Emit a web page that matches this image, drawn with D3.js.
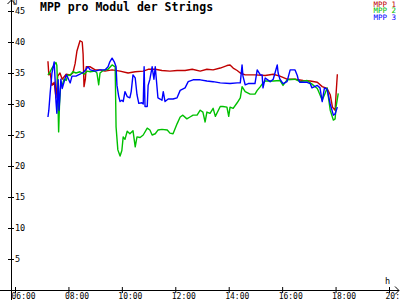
<!DOCTYPE html>
<html>
<head>
<meta charset="utf-8">
<script src="https://cdn.jsdelivr.net/npm/d3@7"></script>
<style>
  body { margin: 0; background: #fff; }
  #chart { width: 400px; height: 300px; }
  text { font-family: "DejaVu Sans Mono", monospace; }
</style>
</head>
<body>
<div id="chart"></div>
<script>
const yTicks = [5, 10, 15, 20, 25, 30, 35, 40, 45];
const xTicks = ["06:00", "08:00", "10:00", "12:00", "14:00", "16:00", "18:00", "20:00"];
const seriesNames = ["MPP 1", "MPP 2", "MPP 3"];
const seriesColors = ["#c00000", "#00c000", "#0000ff"];

const mpp1 = [
  ["07:14", 36.9], ["07:16", 34.7], ["07:19", 35.0], ["07:23", 33.0], ["07:28", 33.5],
  ["07:32", 31.0], ["07:36", 34.5], ["07:41", 35.0], ["07:46", 34.0], ["07:55", 34.8],
  ["08:04", 34.7], ["08:10", 35.0], ["08:15", 36.5], ["08:19", 38.5], ["08:26", 40.2],
  ["08:31", 40.0], ["08:33", 38.0], ["08:35", 32.8], ["08:38", 34.0], ["08:40", 36.0],
  ["08:49", 36.0], ["09:00", 35.5], ["09:11", 35.5], ["09:22", 35.3], ["09:38", 35.5],
  ["09:56", 35.3], ["10:14", 35.0], ["10:30", 35.2], ["10:48", 35.3], ["10:59", 35.6],
  ["11:15", 35.6], ["11:30", 35.4], ["11:48", 35.3], ["12:04", 35.4], ["12:22", 35.4],
  ["12:38", 35.6], ["12:56", 35.3], ["13:11", 35.6], ["13:25", 35.5], ["13:41", 35.8],
  ["13:56", 36.2], ["14:03", 36.3], ["14:10", 35.8], ["14:19", 35.4], ["14:26", 35.0],
  ["14:37", 34.7], ["14:59", 34.7], ["15:22", 34.6], ["15:40", 34.8], ["15:55", 34.5],
  ["16:11", 34.0], ["16:29", 34.0], ["16:47", 33.8], ["17:03", 33.7], ["17:19", 33.5],
  ["17:30", 32.8], ["17:41", 32.5], ["17:48", 31.5], ["17:53", 29.5], ["17:59", 29.0],
  ["18:01", 31.5], ["18:04", 34.8]
];

const mpp2 = [
  ["07:14", 34.7], ["07:19", 35.2], ["07:23", 35.8], ["07:28", 36.3], ["07:32", 36.7],
  ["07:34", 36.2], ["07:36", 32.0], ["07:38", 25.5], ["07:40", 30.0], ["07:43", 33.5],
  ["07:46", 33.0], ["07:50", 34.0], ["07:55", 33.8], ["07:59", 34.7], ["08:04", 34.6],
  ["08:10", 35.2], ["08:17", 35.0], ["08:26", 35.2], ["08:35", 34.8], ["08:42", 35.3],
  ["08:49", 35.2], ["09:00", 35.3], ["09:04", 35.0], ["09:08", 33.1], ["09:11", 35.0],
  ["09:18", 35.4], ["09:29", 35.6], ["09:38", 36.3], ["09:45", 36.0], ["09:47", 26.3],
  ["09:51", 22.6], ["09:56", 21.6], ["10:00", 22.5], ["10:03", 24.7], ["10:07", 24.3],
  ["10:12", 25.6], ["10:18", 25.2], ["10:25", 25.7], ["10:30", 23.1], ["10:34", 24.7],
  ["10:41", 24.6], ["10:48", 25.0], ["10:57", 26.1], ["11:03", 25.8], ["11:08", 25.0],
  ["11:15", 25.2], ["11:21", 25.8], ["11:30", 25.9], ["11:42", 25.8], ["11:48", 25.3],
  ["11:55", 25.2], ["12:04", 26.8], ["12:11", 27.9], ["12:17", 28.2], ["12:26", 27.6],
  ["12:33", 27.9], ["12:40", 28.2], ["12:49", 28.2], ["12:56", 29.0], ["13:02", 28.7],
  ["13:07", 27.1], ["13:11", 28.7], ["13:18", 28.5], ["13:25", 29.3], ["13:30", 28.0],
  ["13:41", 29.6], ["13:47", 29.6], ["13:56", 29.5], ["14:00", 28.0], ["14:03", 29.5],
  ["14:10", 29.3], ["14:19", 30.2], ["14:26", 31.0], ["14:30", 32.8], ["14:37", 32.0],
  ["14:48", 31.6], ["14:59", 31.6], ["15:04", 32.2], ["15:11", 32.8], ["15:17", 33.4],
  ["15:22", 33.7], ["15:40", 33.7], ["15:55", 33.8], ["16:02", 33.0], ["16:11", 33.9],
  ["16:29", 34.0], ["16:40", 33.6], ["16:56", 33.8], ["17:07", 33.2], ["17:19", 32.5],
  ["17:25", 31.5], ["17:30", 30.6], ["17:37", 31.8], ["17:41", 32.6], ["17:48", 29.0],
  ["17:55", 27.4], ["17:59", 27.6], ["18:01", 29.5], ["18:06", 31.7]
];

const mpp3 = [
  ["07:14", 27.9], ["07:16", 29.0], ["07:19", 31.8], ["07:23", 35.0], ["07:28", 36.8],
  ["07:30", 34.0], ["07:32", 30.4], ["07:34", 28.5], ["07:37", 33.9], ["07:39", 29.0],
  ["07:41", 31.5], ["07:43", 34.0], ["07:46", 32.5], ["07:50", 33.5], ["07:55", 34.7],
  ["07:59", 34.2], ["08:04", 33.4], ["08:08", 34.5], ["08:17", 34.5], ["08:26", 34.8],
  ["08:35", 35.2], ["08:44", 36.0], ["08:49", 35.5], ["09:00", 35.3], ["09:11", 35.5],
  ["09:22", 35.5], ["09:29", 36.0], ["09:33", 36.8], ["09:38", 37.4], ["09:43", 36.8],
  ["09:47", 36.0], ["09:49", 33.0], ["09:53", 31.2], ["09:56", 30.4], ["10:00", 30.6],
  ["10:03", 30.4], ["10:07", 32.0], ["10:12", 31.2], ["10:18", 31.0], ["10:21", 32.0],
  ["10:25", 34.7], ["10:30", 34.2], ["10:34", 31.5], ["10:38", 30.1], ["10:45", 30.2],
  ["10:48", 30.0], ["10:50", 36.0], ["10:52", 29.6], ["10:57", 29.6], ["10:59", 33.0],
  ["11:03", 34.0], ["11:08", 36.0], ["11:12", 34.0], ["11:15", 36.0], ["11:21", 31.0],
  ["11:26", 30.8], ["11:30", 30.6], ["11:33", 32.0], ["11:37", 30.4], ["11:44", 30.8],
  ["11:55", 30.8], ["12:04", 31.0], ["12:11", 32.2], ["12:22", 32.6], ["12:29", 33.6],
  ["12:40", 33.9], ["12:56", 33.9], ["13:11", 33.7], ["13:25", 33.6], ["13:41", 33.4],
  ["14:03", 33.3], ["14:19", 33.4], ["14:26", 33.4], ["14:30", 36.3], ["14:32", 34.5],
  ["14:37", 33.1], ["14:44", 33.3], ["14:59", 33.3], ["15:04", 35.5], ["15:11", 34.7],
  ["15:15", 34.7], ["15:17", 32.6], ["15:22", 34.2], ["15:33", 33.6], ["15:40", 34.0],
  ["15:49", 36.3], ["15:51", 35.0], ["15:55", 34.0], ["16:02", 33.3], ["16:11", 33.6],
  ["16:18", 35.5], ["16:29", 35.5], ["16:34", 34.6], ["16:36", 34.0], ["16:40", 33.5],
  ["16:56", 33.5], ["17:03", 33.3], ["17:07", 32.6], ["17:19", 33.0], ["17:25", 32.6],
  ["17:30", 30.4], ["17:35", 32.6], ["17:41", 32.4], ["17:48", 30.0], ["17:55", 28.2],
  ["17:59", 28.4], ["18:04", 29.5]
];

const allSeries = [mpp1, mpp2, mpp3];

function toHours(s) {
    const [h, m] = s.split(":").map(Number);
    return h + m / 60;
}

const W = 400, H = 300;
const svg = d3.select("#chart").append("svg")
    .attr("width", W)
    .attr("height", H);

const x = d3.scaleLinear().domain([6, 20]).range([15, 389]);
const y = d3.scaleLinear().domain([0, 45]).range([290, 11]);
const axisX0 = x(6) - 4;   // y axis sits a bit left of 06:00

// x axis
const xAxis = svg.append("g")
    .attr("transform", `translate(0, ${y(0)})`)
    .call(d3.axisBottom(x)
        .tickValues(xTicks.map(toHours))
        .tickSize(3)
        .tickFormat((d, i) => xTicks[i]));
xAxis.select(".domain").remove();
xAxis.selectAll(".tick line").attr("y1", -3).attr("y2", 3).attr("stroke", "#000");
xAxis.selectAll(".tick text")
    .attr("y", 3)
    .attr("dy", "0.71em")
    .attr("text-anchor", "start")
    .attr("x", -4)
    .attr("font-size", 8)
    .attr("font-family", "DejaVu Sans Mono, monospace")
    .attr("fill", "#000");

// y axis
const yAxis = svg.append("g")
    .attr("transform", `translate(${axisX0}, 0)`)
    .call(d3.axisLeft(y).tickValues(yTicks).tickSize(3));
yAxis.select(".domain").remove();
yAxis.selectAll(".tick line").attr("x1", -3).attr("x2", 3).attr("stroke", "#000");
yAxis.selectAll(".tick text")
    .attr("x", 4)
    .attr("text-anchor", "start")
    .attr("font-size", 8.5)
    .attr("font-family", "DejaVu Sans Mono, monospace")
    .attr("fill", "#000");

// axis lines with arrows
svg.append("line")
    .attr("x1", 0).attr("x2", W - 1)
    .attr("y1", y(0) + 0.5).attr("y2", y(0) + 0.5)
    .attr("stroke", "#000");
svg.append("path")
    .attr("d", `M${W - 5},${y(0) - 3.5} L${W - 1},${y(0) + 0.5} L${W - 5},${y(0) + 4.5}`)
    .attr("fill", "none").attr("stroke", "#000");
svg.append("line")
    .attr("x1", axisX0 + 0.5).attr("x2", axisX0 + 0.5)
    .attr("y1", 0).attr("y2", H)
    .attr("stroke", "#000");
svg.append("path")
    .attr("d", `M${axisX0 - 3.5},4 L${axisX0 + 0.5},0 L${axisX0 + 4.5},4`)
    .attr("fill", "none").attr("stroke", "#000");

svg.append("text")
    .attr("x", axisX0 + 2).attr("y", 5)
    .attr("font-size", 7)
    .text("U");
svg.append("text")
    .attr("x", 385).attr("y", 284)
    .attr("font-size", 8.5)
    .text("h");

// title
svg.append("text")
    .attr("x", 40).attr("y", 11)
    .attr("font-size", 11.5)
    .attr("font-weight", "bold")
    .text("MPP pro Modul der Strings");

// lines
const line = d3.line()
    .x(d => x(toHours(d[0])))
    .y(d => y(d[1]));

svg.selectAll(".series")
    .data(allSeries)
    .enter()
    .append("path")
    .attr("class", "series")
    .attr("d", line)
    .attr("fill", "none")
    .attr("stroke", (d, i) => seriesColors[i])
    .attr("stroke-width", 1.4)
    .attr("stroke-linejoin", "round");

// legend
svg.selectAll(".legend")
    .data(seriesNames)
    .enter()
    .append("text")
    .attr("class", "legend")
    .attr("x", 396)
    .attr("y", (d, i) => 6.5 + i * 6.5)
    .attr("text-anchor", "end")
    .attr("font-size", 7.5)
    .attr("fill", (d, i) => seriesColors[i])
    .text(d => d);
</script>
</body>
</html>
